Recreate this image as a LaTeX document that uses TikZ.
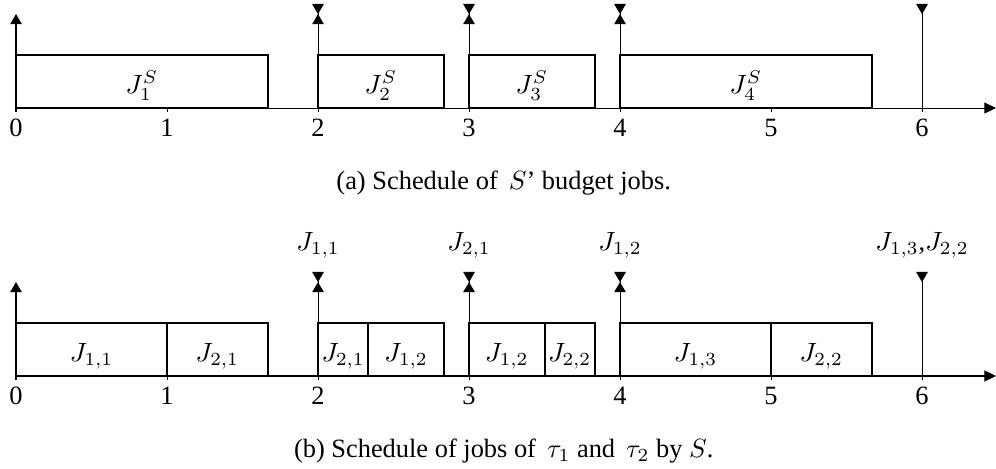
\documentclass[tikz,border=0pt]{standalone}
\usepackage{fontspec}
\setmainfont{Liberation Serif}
\usetikzlibrary{arrows.meta}
\newcommand{\job}[3]{\draw[thick] (#1,0) rectangle (#2,0.733);
	\node[anchor=base] at ({(#1+#2)/2},0.2) {$#3$}}
\newcommand{\rel}[1]{\draw[-{Triangle[length=0.14cm,width=0.16cm]}] (#1,0) -- (#1,1.30)}
\newcommand{\dl}[1]{\draw[-{Triangle[reversed,length=0.14cm,width=0.16cm]}] (#1,0) -- (#1,1.44)}
\newcommand{\taxis}{\draw[-{Triangle[length=0.16cm,width=0.15cm]}] (0,0) -- (6.49,0);
	\foreach \t in {0,...,6} {\draw (\t,0) -- (\t,-0.06);
		\node[anchor=base] (tick\t) at (\t,-0.40) {\t};}}

\begin{document}
\begin{tikzpicture}[x=2.09cm,y=1cm,every node/.style={scale=1.04}]
	\useasboundingbox (-0.106,-4.983) rectangle (6.490,1.495);
	% (a) budget jobs
	\taxis;
		\job{0}{5/3}{J_1^S};
		\job{2}{2+5/6}{J_2^S};
		\job{3}{3+5/6}{J_3^S};
		\job{4}{4+5/3}{J_4^S};
	\rel{0}; \rel{2}; \rel{3}; \rel{4};
	\dl{2}; \dl{3}; \dl{4}; \dl{6};
	\node[anchor=base] (capa) at (3.23,-1.13) {(a) Schedule of \,$S$' budget jobs.};
	% (b) jobs of tau_1, tau_2
	\begin{scope}[yshift=-3.709cm]
	\taxis;
		\job{0}{1}{J_{1,1}};
		\job{1}{5/3}{J_{2,1}};
		\job{2}{2+1/3}{J_{2,1}};
		\job{2+1/3}{2+5/6}{J_{1,2}};
		\job{3}{3.5}{J_{1,2}};
		\job{3.5}{3+5/6}{J_{2,2}};
		\job{4}{5}{J_{1,3}};
		\job{5}{4+5/3}{J_{2,2}};
	\rel{0}; \rel{2}; \rel{3}; \rel{4};
	\dl{2}; \dl{3}; \dl{4}; \dl{6};
	\node[anchor=base] (d2) at (2,1.74) {$J_{1,1}$};
	\node[anchor=base] (d3) at (3,1.74) {$J_{2,1}$};
	\node[anchor=base] (d4) at (4,1.74) {$J_{1,2}$};
	\node[anchor=base] (d6) at (6,1.74) {$J_{1,3}$,$J_{2,2}$};
	\node[anchor=base] (capb) at (3.23,-1.13) {(b) Schedule of jobs of \,$\tau_1$ and \,$\tau_2$ by $S$.};
	\end{scope}
\end{tikzpicture}
\end{document}
